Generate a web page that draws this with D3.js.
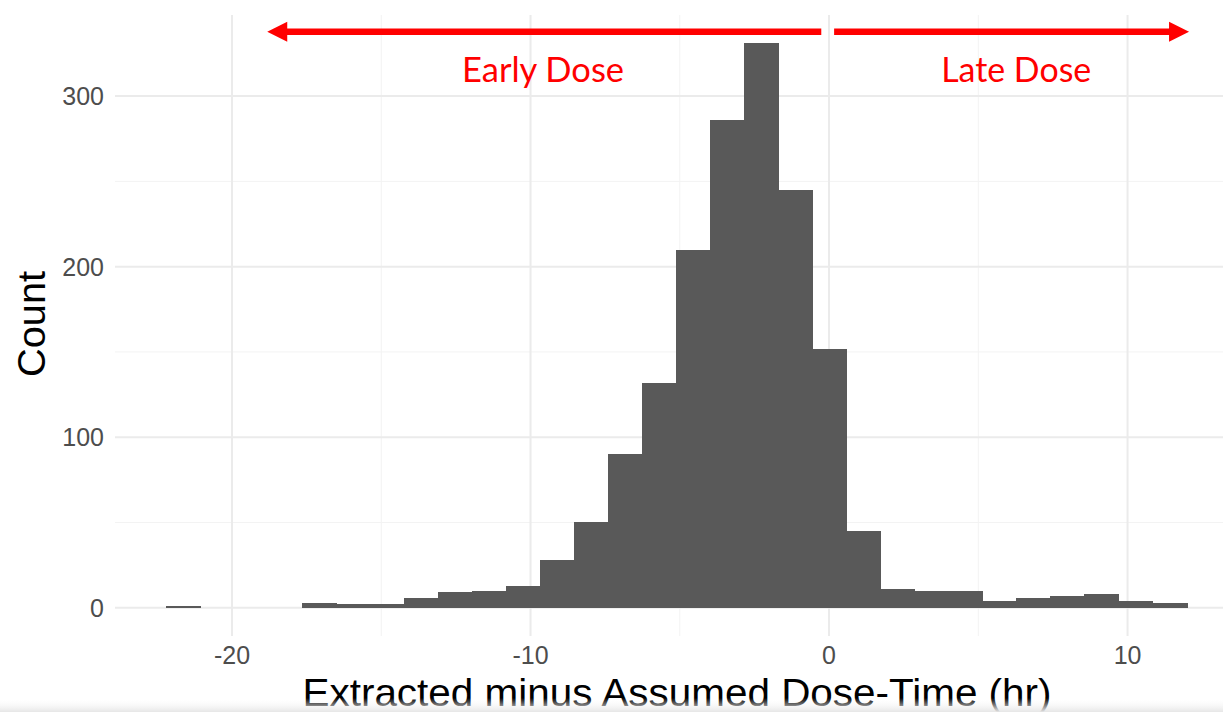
<!doctype HTML>
<meta charset="utf-8">
<title>Dose-Time Histogram</title>

<style>
body {
  margin: 0px;
  background: #fff;
}
svg {
  display: block;
}
.grid line {
  stroke: #ebebeb;
}
.grid line.minor {
  stroke: #f3f3f3;
}
.tick-label {
  font-family: "Liberation Sans", Arial, sans-serif;
  fill: #4d4d4d;
  font-size: 25px;
}
.axis-title {
  font-family: "Liberation Sans", Arial, sans-serif;
  fill: #000;
}
.note {
  font-family: Lato, "Open Sans", sans-serif;
  fill: #ff0000;
  font-size: 34px;
}
</style>

<script src="https://d3js.org/d3.v7.min.js"></script>

<body>
<script>
var width = 1223, height = 712;

// histogram: 30 bins
var binStart = -22.21;
var binWidth = 1.1395;
var counts = [1, 0, 0, 0, 3, 2, 2, 6, 9, 10,
              13, 28, 50, 90, 132, 210, 286, 331, 245, 152,
              45, 11, 10, 10, 4, 6, 7, 8, 4, 3];

var xMajor = [-20, -10, 0, 10];
var xMinor = [-15, -5, 5];
var yMajor = [0, 100, 200, 300];
var yMinor = [50, 150, 250];

// annotation arrows (data units)
var arrows = [[-0.26, -18.82], [0.17, 12.06]];
var arrowY = 337.7;
var noteLabels = ["Early Dose", "Late Dose"];
var noteX = [-9.58, 6.27];
var noteWidth = [162, 150];
var noteY = 308.2;

var svg = d3.select("body").append("svg")
    .attr("width", width)
    .attr("height", height);

var x = d3.scaleLinear().domain([-23.92, 13.70]).range([115, 1238]);
var y = d3.scaleLinear().domain([-16.55, 347.55]).range([636, 15]);

var gridLayer = svg.append("g").attr("class", "grid");

// minor grid
gridLayer.selectAll("line.vminor")
    .data(xMinor)
  .enter().append("line")
    .attr("class", "minor")
    .attr("x1", d => x(d)).attr("x2", d => x(d))
    .attr("y1", y.range()[1]).attr("y2", y.range()[0])
    .attr("stroke-width", 1);
gridLayer.selectAll("line.hminor")
    .data(yMinor)
  .enter().append("line")
    .attr("class", "minor")
    .attr("y1", d => y(d)).attr("y2", d => y(d))
    .attr("x1", 115).attr("x2", width)
    .attr("stroke-width", 1);

// major grid
gridLayer.selectAll("line.vmajor")
    .data(xMajor)
  .enter().append("line")
    .attr("x1", d => x(d)).attr("x2", d => x(d))
    .attr("y1", y.range()[1]).attr("y2", y.range()[0])
    .attr("stroke-width", 2);
gridLayer.selectAll("line.hmajor")
    .data(yMajor)
  .enter().append("line")
    .attr("y1", d => y(d)).attr("y2", d => y(d))
    .attr("x1", 115).attr("x2", width)
    .attr("stroke-width", 2);

// bars
svg.append("g")
    .attr("shape-rendering", "crispEdges")
  .selectAll("rect")
    .data(counts)
  .enter().append("rect")
    .attr("x", (d, i) => Math.round(x(binStart + i * binWidth)))
    .attr("width", (d, i) => Math.round(x(binStart + (i + 1) * binWidth)) - Math.round(x(binStart + i * binWidth)) + 1)
    .attr("y", d => y(d))
    .attr("height", d => y(0) - y(d))
    .attr("fill", "#595959");

// tick labels
svg.append("g").selectAll("text")
    .data(yMajor)
  .enter().append("text")
    .attr("class", "tick-label")
    .attr("x", 104)
    .attr("y", d => y(d))
    .attr("dy", "0.36em")
    .attr("text-anchor", "end")
    .text(d => d);

svg.append("g").selectAll("text")
    .data(xMajor)
  .enter().append("text")
    .attr("class", "tick-label")
    .attr("x", d => x(d))
    .attr("y", 664)
    .attr("text-anchor", "middle")
    .text(d => d);

// axis titles
svg.append("text")
    .attr("class", "axis-title")
    .attr("x", 677)
    .attr("y", 706)
    .attr("text-anchor", "middle")
    .style("font-size", "39px")
    .attr("textLength", 749)
    .attr("lengthAdjust", "spacingAndGlyphs")
    .text("Extracted minus Assumed Dose-Time (hr)");

svg.append("text")
    .attr("class", "axis-title")
    .attr("transform", "translate(45,324) rotate(-90)")
    .attr("text-anchor", "middle")
    .style("font-size", "39px")
    .attr("textLength", 106)
    .attr("lengthAdjust", "spacingAndGlyphs")
    .text("Count");

// red arrows
var arrowLayer = svg.append("g").attr("fill", "#ff0000").attr("stroke", "none");
arrows.forEach(function(a) {
  var x0 = x(a[0]), x1 = x(a[1]), yy = y(arrowY);
  var dir = x1 > x0 ? 1 : -1;
  var head = 20, half = 10, th = 3.3;
  var xb = x1 - dir * head;
  var p = d3.path();
  p.moveTo(x0, yy - th);
  p.lineTo(xb, yy - th);
  p.lineTo(xb, yy - half);
  p.lineTo(x1, yy);
  p.lineTo(xb, yy + half);
  p.lineTo(xb, yy + th);
  p.lineTo(x0, yy + th);
  p.closePath();
  arrowLayer.append("path").attr("d", p.toString());
});

svg.append("g").selectAll("text")
    .data(noteLabels)
  .enter().append("text")
    .attr("class", "note")
    .attr("x", (d, i) => x(noteX[i]))
    .attr("y", y(noteY))
    .attr("text-anchor", "middle")
    .attr("textLength", (d, i) => noteWidth[i])
    .attr("lengthAdjust", "spacingAndGlyphs")
    .text(d => d);

// faint shadow along the bottom edge
var grad = svg.append("defs").append("linearGradient")
    .attr("id", "shade").attr("x1", 0).attr("x2", 0).attr("y1", 0).attr("y2", 1);
grad.append("stop").attr("offset", "0%").attr("stop-color", "#fff").attr("stop-opacity", 0);
grad.append("stop").attr("offset", "100%").attr("stop-color", "#e6e6e6").attr("stop-opacity", 1);
svg.append("rect")
    .attr("x", 0).attr("y", 698).attr("width", width).attr("height", 14)
    .attr("fill", "url(#shade)");
</script>
